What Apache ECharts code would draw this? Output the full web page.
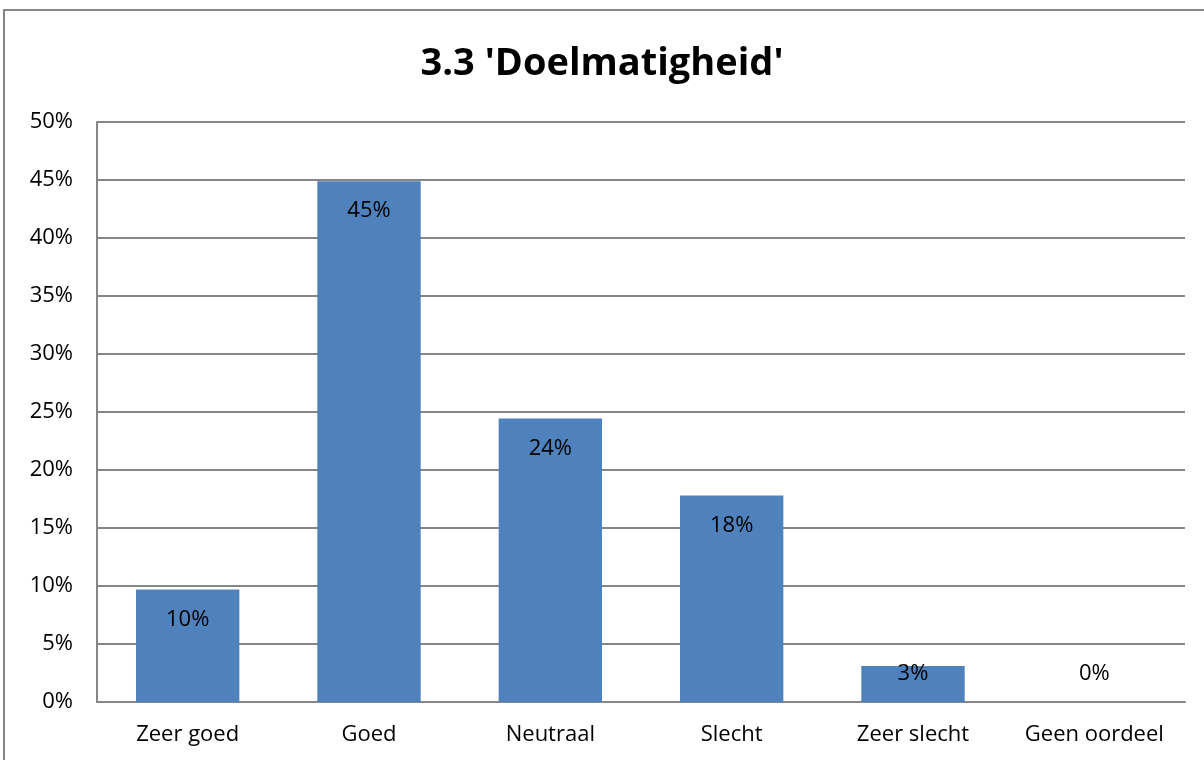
<!DOCTYPE html>
<html>
<head>
<meta charset="utf-8">
<script src="https://cdn.jsdelivr.net/npm/echarts@6/dist/echarts.min.js"></script>
<style>
  html, body { margin: 0; padding: 0; background: #fff; }
  #chart { width: 1204px; height: 760px; }
</style>
</head>
<body>
<div id="chart"></div>
<script>
// data
const categories = ['Zeer goed', 'Goed', 'Neutraal', 'Slecht', 'Zeer slecht', 'Geen oordeel'];
const values = [9.7, 44.9, 24.45, 17.8, 3.1, 0];
const yTicks = [0, 5, 10, 15, 20, 25, 30, 35, 40, 45, 50];

const font = '"Open Sans", "Noto Sans", sans-serif';
const barColor = '#4f81bd';

// small bars keep their label just above the baseline, like Excel does
const barData = values.map(function (v) {
  if (v < 6) {
    return { value: v, label: { position: 'insideBottom', distance: 17 } };
  }
  return v;
});

const chart = echarts.init(document.getElementById('chart'));
const option = {
  backgroundColor: '#fff',
  animation: false,
  title: {
    text: "3.3 'Doelmatigheid'",
    left: 'center',
    top: 40,
    textStyle: { fontFamily: font, fontWeight: 'bold', fontSize: 38, color: '#000' }
  },
  graphic: [{
    type: 'rect',
    shape: { x: 4, y: 10, width: 1300, height: 800 },
    style: { fill: 'none', stroke: '#868686', lineWidth: 2 },
    silent: true
  }],
  grid: { left: 97, right: 19, top: 122, bottom: 58 },
  xAxis: {
    type: 'category',
    data: categories,
    axisLine: { lineStyle: { color: '#868686', width: 2 } },
    axisTick: { show: false },
    axisLabel: { fontFamily: font, fontSize: 22, color: '#000', margin: 22 }
  },
  yAxis: {
    type: 'value',
    min: yTicks[0],
    max: yTicks[yTicks.length - 1],
    interval: 5,
    axisLine: { show: true, lineStyle: { color: '#868686', width: 2 } },
    axisTick: { show: false },
    splitLine: { lineStyle: { color: '#868686', width: 2 } },
    axisLabel: {
      fontFamily: font, fontSize: 22, color: '#000', margin: 24,
      formatter: function (v) { return v + '%'; }
    }
  },
  series: [{
    type: 'bar',
    data: barData,
    barWidth: '57%',
    itemStyle: { color: barColor },
    label: {
      show: true,
      position: 'insideTop',
      distance: 19,
      fontFamily: font,
      fontSize: 22,
      color: '#000',
      formatter: function (p) { return Math.round(p.value) + '%'; }
    }
  }]
};
chart.setOption(option);
</script>
</body>
</html>
